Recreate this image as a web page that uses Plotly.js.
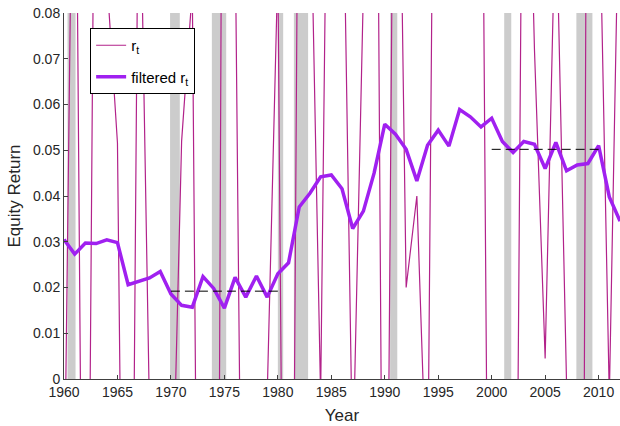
<!DOCTYPE html>
<html>
<head>
<meta charset="utf-8">
<script src="https://cdn.plot.ly/plotly-3.0.1.min.js"></script>
<style>html,body{margin:0;padding:0;background:#fff;}#chart{width:620px;height:426px;}</style>
</head>
<body>
<div id="chart"></div>
<script>
const years = [1960,1961,1962,1963,1964,1965,1966,1967,1968,1969,1970,1971,1972,1973,1974,1975,1976,1977,1978,1979,1980,1981,1982,1983,1984,1985,1986,1987,1988,1989,1990,1991,1992,1993,1994,1995,1996,1997,1998,1999,2000,2001,2002,2003,2004,2005,2006,2007,2008,2009,2010,2011,2012];

const rt = [-0.034,0.16,-0.14,0.17,0.088,0.0516,-0.17,0.127,-0.008,-0.10,
            -0.0425,0.052,0.085,-0.20,-0.30,0.25,0.10,-0.14,-0.08,-0.004,
            0.09,-0.20,0.157,0.115,-0.004,0.20,0.127,-0.02,0.085,0.23,
            -0.12,0.186,0.020,0.040,-0.03,0.25,0.15,0.25,0.20,0.163,
            -0.154,-0.12,-0.148,0.166,0.072,0.0045,0.107,-0.001,-0.40,0.20,
            0.115,-0.004,0.12];

const filtered = [0.0305,0.0273,0.0297,0.0296,0.0304,0.0298,0.0206,0.0213,0.0221,0.0235,
                  0.0186,0.0161,0.0157,0.0224,0.0198,0.0155,0.0222,0.0179,0.0225,0.0179,
                  0.0230,0.0254,0.0376,0.0406,0.0442,0.0446,0.0416,0.0329,0.0367,0.0450,
                  0.0557,0.0535,0.0502,0.0433,0.0511,0.0544,0.0509,0.0589,0.0573,0.0551,
                  0.0570,0.0519,0.0495,0.0519,0.0513,0.0460,0.0517,0.0455,0.0468,0.0471,
                  0.0510,0.0398,0.0345];

const recessionStart = [1960.33,1969.92,1973.83,1980.0,1981.5,1990.5,2001.17,2007.92];
const recessionEnd   = [1961.08,1970.83,1975.17,1980.5,1982.83,1991.17,2001.83,2009.42];

const meanPeriods = [[1970,1980],[2000,2010]];
const meanValues = [0.0192,0.0502];

const shapes = recessionStart.map((s,i)=>({
  type:'rect', xref:'x', yref:'paper', x0:s, x1:recessionEnd[i], y0:0, y1:1,
  fillcolor:'#cccccc', line:{width:0}, layer:'below'
}));

const traces = [
  {x:years, y:rt, type:'scatter', mode:'lines', name:'r<sub>t</sub>', legendgroup:'a',
   line:{color:'rgb(178,34,138)', width:1.2}},
  {x:years, y:filtered, type:'scatter', mode:'lines', name:'filtered r<sub>t</sub>', legendgroup:'b',
   line:{color:'#A020F0', width:3.5}}
];
meanPeriods.forEach((p,i)=>{
  traces.push({x:p, y:[meanValues[i],meanValues[i]], type:'scatter', mode:'lines',
    showlegend:false, line:{color:'#000000', width:1, dash:'9px,5px'}});
});

const fontFam = 'Liberation Sans, Arial, Helvetica, sans-serif';
const layout = {
  width:620, height:426,
  margin:{l:64, r:0, t:13, b:47},
  paper_bgcolor:'#ffffff', plot_bgcolor:'#ffffff',
  font:{family:fontFam, size:14, color:'#262626'},
  shapes:shapes,
  showlegend:true,
  legend:{x:0.047, y:0.959, xanchor:'left', yanchor:'top',
    bgcolor:'#ffffff', bordercolor:'#000000', borderwidth:1,
    traceorder:'grouped', tracegroupgap:9,
    font:{family:fontFam, size:15, color:'#000000'}},
  xaxis:{range:[1960,2012], tick0:1960, dtick:5, ticks:'inside', ticklen:4,
    tickcolor:'#404040', showline:true, linecolor:'#404040', linewidth:1,
    showgrid:false, zeroline:false,
    title:{text:'Year', font:{size:17, color:'#262626'}, standoff:10},
    tickfont:{size:14, color:'#262626'}},
  yaxis:{range:[0,0.08], tick0:0, dtick:0.01, ticks:'inside', ticklen:4,
    tickcolor:'#404040', showline:true, linecolor:'#404040', linewidth:1,
    showgrid:false, zeroline:false,
    title:{text:'Equity Return', font:{size:17, color:'#262626'}, standoff:8},
    tickfont:{size:14, color:'#262626'}}
};

Plotly.newPlot('chart', traces, layout, {staticPlot:true, displayModeBar:false});
</script>
</body>
</html>
